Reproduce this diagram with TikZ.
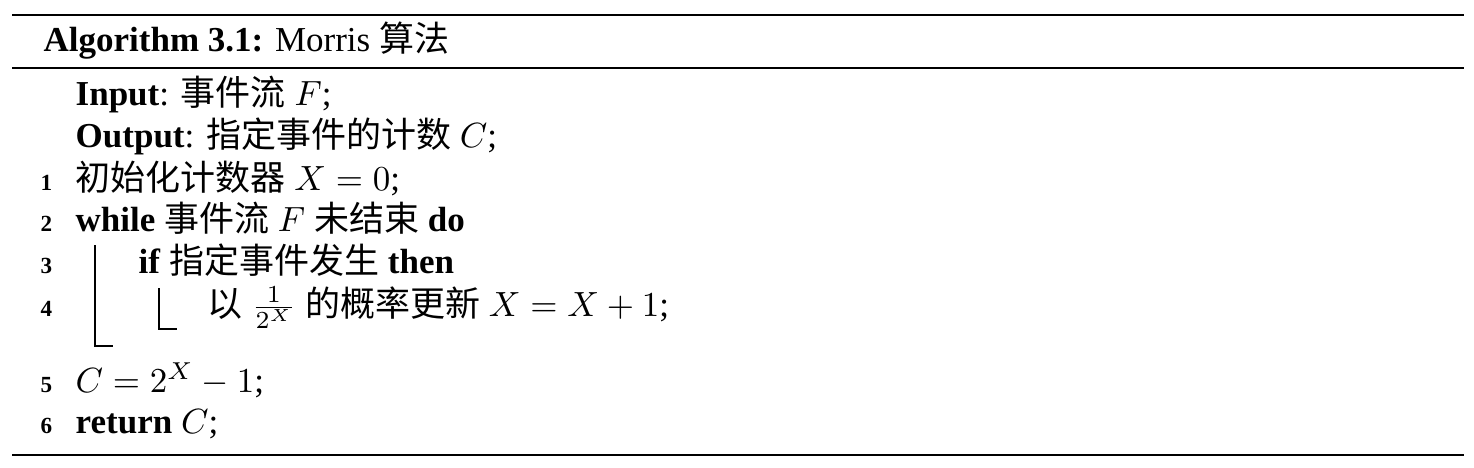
\documentclass[tikz,border=0pt]{standalone}
\usepackage{fontspec}
\setmainfont{Liberation Serif}
\newfontfamily\cjk{Noto Sans CJK SC}
\newcommand{\zh}[1]{{\cjk #1}}
\begin{document}
\begin{tikzpicture}[x=0.2857pt,y=-0.2857pt,
  txt/.style={anchor=base west,inner sep=0pt,font=\fontsize{10}{12}\selectfont},
  lnum/.style={anchor=base east,inner sep=0pt,font=\fontsize{6.6}{7}\selectfont\bfseries},
  thickrule/.style={line width=0.8pt},
  midrule/.style={line width=0.6pt},
  blockbar/.style={line width=0.45pt}]
\useasboundingbox (0,0) rectangle (1474,467);
% rules
\coordinate (r1a) at (12,15);  \coordinate (r1b) at (1464,15);
\coordinate (r2a) at (12,68);  \coordinate (r2b) at (1464,68);
\coordinate (r3a) at (12,455); \coordinate (r3b) at (1464,455);
\draw[thickrule] (r1a) -- (r1b);
\draw[midrule] (r2a) -- (r2b);
\draw[thickrule] (r3a) -- (r3b);
% caption
\node[txt] (cap) at (43,51) {\textbf{Algorithm 3.1:} Morris \zh{算法}};
% input / output
\node[txt] (in) at (75,105) {\textbf{Input}: \zh{事件流} $F$;};
\node[txt] (out) at (75,147) {\textbf{Output}: \zh{指定事件的计数} $C$;};
% lines
\node[lnum] (n1) at (53,190) {1};
\node[txt] (l1) at (75,190) {\zh{初始化计数器} $X=0$;};
\node[lnum] (n2) at (53,231) {2};
\node[txt] (l2) at (75,231) {\textbf{while} \zh{事件流} $F$ \zh{未结束} \textbf{do}};
\node[lnum] (n3) at (53,273) {3};
\node[txt] (l3) at (138,273) {\textbf{if} \zh{指定事件发生} \textbf{then}};
\node[lnum] (n4) at (53,316) {4};
\node[txt] (l4) at (207,316) {\zh{以} $\frac{1}{2^X}$ \zh{的概率更新} $X=X+1$;};
\node[lnum] (n5) at (53,392) {5};
\node[txt] (l5) at (75,392) {$C=2^X-1$;};
\node[lnum] (n6) at (53,433) {6};
\node[txt] (l6) at (75,433) {\textbf{return} $C$;};
% block bars
\coordinate (ob1) at (95,245); \coordinate (ob2) at (95,346); \coordinate (ob3) at (113,346);
\coordinate (ib1) at (159,288); \coordinate (ib2) at (159,329); \coordinate (ib3) at (177,329);
\draw[blockbar] (ob1) -- (ob2) -- (ob3);
\draw[blockbar] (ib1) -- (ib2) -- (ib3);
\end{tikzpicture}
\end{document}
